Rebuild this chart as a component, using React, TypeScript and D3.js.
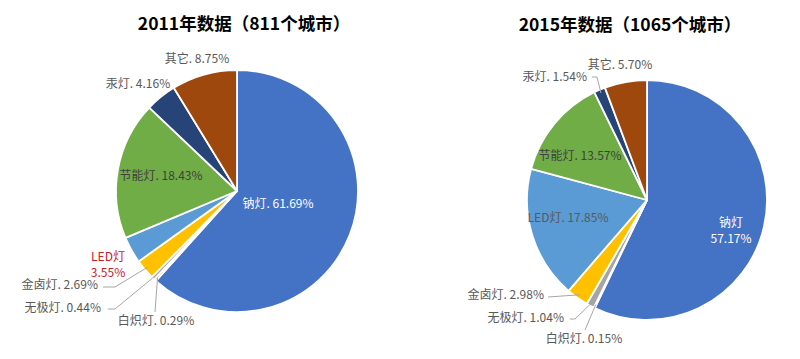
import React from "react";
import * as d3 from "d3";

const categories = ["钠灯", "白炽灯", "无极灯", "金卤灯", "LED灯", "节能灯", "汞灯", "其它"];
const values2011 = [61.69, 0.29, 0.44, 2.69, 3.55, 18.43, 4.16, 8.75];
const values2015 = [57.17, 0.15, 1.04, 2.98, 17.85, 13.57, 1.54, 5.7];
const titles = ["2011年数据（811个城市）", "2015年数据（1065个城市）"];
const colors = ["#4472C4", "#ED7D31", "#A5A5A5", "#FFC000", "#5B9BD5", "#70AD47", "#264478", "#9E480E"];

type LabelLayout = {
  dx: number;
  dy: number;
  anchor: "start" | "middle" | "end";
  twoLines?: boolean;
  fill?: string;
  leader?: [number, number][];
};

// label positions relative to pie centre (layout only)
const layout2011: LabelLayout[] = [
  { dx: 41, dy: 14, anchor: "middle", fill: "#ffffff" },
  { dx: -81, dy: 131, anchor: "middle", leader: [[-82, 121]] },
  { dx: -136, dy: 118, anchor: "end", leader: [[-129, 118], [-122, 118]] },
  { dx: -139, dy: 95, anchor: "end", leader: [[-134, 96], [-122, 96]] },
  { dx: -129, dy: 78, anchor: "middle", twoLines: true, fill: "#C8202A" },
  { dx: -76, dy: -14, anchor: "middle", fill: "#404040" },
  { dx: -99, dy: -106, anchor: "middle" },
  { dx: -40, dy: -131, anchor: "middle" },
];
const layout2015: LabelLayout[] = [
  { dx: 84, dy: 35, anchor: "middle", twoLines: true, fill: "#ffffff" },
  { dx: -63, dy: 140, anchor: "middle", leader: [[-62, 130]] },
  { dx: -83, dy: 119, anchor: "end", leader: [[-77, 119], [-72, 119]] },
  { dx: -103, dy: 96, anchor: "end", leader: [[-99, 97]] },
  { dx: -79, dy: 19, anchor: "middle" },
  { dx: -67, dy: -43, anchor: "middle", fill: "#404040" },
  { dx: -60, dy: -122, anchor: "end", leader: [[-55, -123], [-50, -123]] },
  { dx: -27, dy: -134, anchor: "middle" },
];

const pies = [
  { values: values2011, title: titles[0], cx: 237, cy: 191, r: 121, tx: 244, ty: 30, layout: layout2011 },
  { values: values2015, title: titles[1], cx: 647, cy: 200, r: 120, tx: 630, ty: 31, layout: layout2015 },
];

const FONT = "'Noto Sans CJK SC', 'Noto Sans', sans-serif";

function Pie({ p }: { p: (typeof pies)[number] }) {
  const data = categories.map((c, i) => ({ c, v: p.values[i], i }));
  const arcs = d3.pie<any>().sort(null).value((d) => d.v)(data);
  const arcGen = d3.arc<any>().innerRadius(0).outerRadius(p.r);
  return (
    <g>
      <text x={p.tx} y={p.ty} textAnchor="middle" fontSize={17.5} fontWeight="bold" fill="#000" fontFamily={FONT}>
        {p.title}
      </text>
      <g transform={`translate(${p.cx},${p.cy})`}>
        {arcs.map((a, i) => (
          <path key={i} d={arcGen(a) || ""} fill={colors[i]} stroke="#fff" strokeWidth={1.8} strokeLinejoin="round" />
        ))}
        {arcs.map((a, i) => {
          const L = p.layout[i];
          if (!L.leader) return null;
          const mid = (a.startAngle + a.endAngle) / 2;
          const rr = p.r * 0.97;
          const end: [number, number] = [Math.sin(mid) * rr, -Math.cos(mid) * rr];
          const pts = [...L.leader, end];
          return <path key={"l" + i} d={d3.line()(pts) || ""} fill="none" stroke="#A6A6A6" strokeWidth={1} />;
        })}
        {arcs.map((a, i) => {
          const L = p.layout[i];
          const fill = L.fill || "#595959";
          const name = categories[i];
          const pct = p.values[i].toFixed(2) + "%";
          if (L.twoLines) {
            return (
              <text key={"t" + i} x={L.dx} y={L.dy} textAnchor={L.anchor} fontSize={12} fill={fill} fontFamily={FONT}>
                <tspan x={L.dx} dy={-8}>{name}</tspan>
                <tspan x={L.dx} dy={16}>{pct}</tspan>
              </text>
            );
          }
          return (
            <text key={"t" + i} x={L.dx} y={L.dy} textAnchor={L.anchor} fontSize={12} fill={fill} fontFamily={FONT} dominantBaseline="middle">
              {name + ". " + pct}
            </text>
          );
        })}
      </g>
    </g>
  );
}

export default function App() {
  return (
    <svg width={800} height={359} style={{ position: "absolute", left: 0, top: 0, background: "#fff" }}>
      <rect width={800} height={359} fill="#fff" />
      {pies.map((p, i) => (
        <Pie key={i} p={p} />
      ))}
    </svg>
  );
}
